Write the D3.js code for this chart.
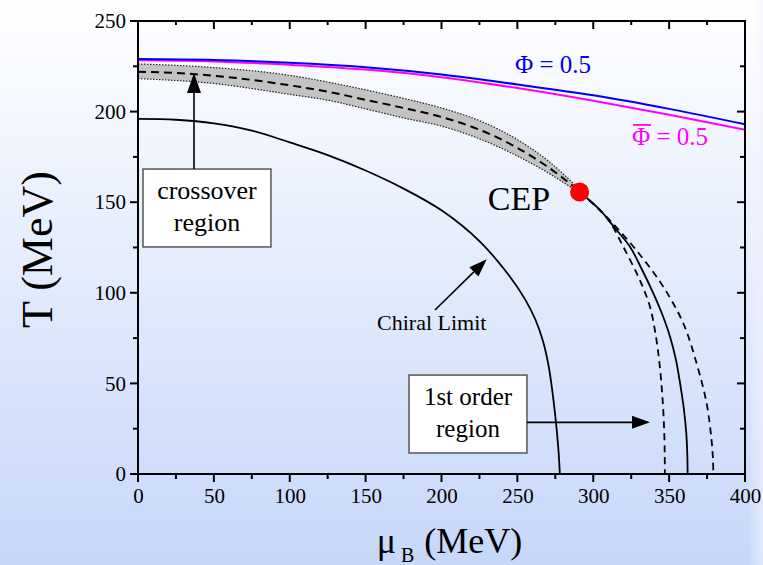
<!DOCTYPE html>
<html>
<head>
<meta charset="utf-8">
<script src="https://cdn.jsdelivr.net/npm/d3@7"></script>
<style>
  html, body { margin: 0; padding: 0; }
  body { width: 763px; height: 565px; overflow: hidden; }
  svg { display: block; font-family: "Liberation Serif", "DejaVu Serif", serif; }
</style>
</head>
<body>
<svg id="chart" width="763" height="565"></svg>
<script>
// Phase diagram of strongly interacting matter: T versus baryon chemical potential.
// Every curve below is a list of [muB (MeV), T (MeV)] pairs.

const xTicks = [0, 50, 100, 150, 200, 250, 300, 350, 400];
const yTicks = [0, 50, 100, 150, 200, 250];

// Deconfinement lines
const phiLine = [[0,229],[50,228.5],[100,227],[150,224.5],[200,220.5],[250,215],[300,209],[350,201.5],[400,193]];
const phiBarLine = [[0,228.3],[50,227.7],[100,225.8],[150,223.2],[200,219],[250,213],[300,206],[350,198.3],[400,190]];

// Crossover (dashed) with its uncertainty band
const crossover = [[0,222],[25,221.3],[50,219.8],[75,217.5],[100,214.5],[125,211],[150,206.5],[175,202],[200,197],[225,190],[250,180],[270,169.5],[291,156]];
const bandUpper = [[0,226.3],[50,224.3],[100,220],[125,216.3],[150,212],[175,207.3],[200,202],[225,195],[250,184.5],[270,173],[291,157]];
const bandLower = [[0,218.2],[50,215.5],[100,209.5],[125,206.3],[150,201.5],[175,196.5],[200,192],[225,185],[250,175.5],[270,166.3],[291,155]];

// Critical end point
const cep = [291, 155.6];

// First-order line and its two spinodals
const firstOrder = [[291,155.6],[304.4,145.7],[314,136],[324.2,125.4],[332,113],[339.6,99.7],[345.5,88],[350.6,75.8],[354.5,63],[357.2,50.2],[359.7,36],[361.3,22.6],[362,10],[362.2,0]];
const spinodalLow = [[291,155.6],[302,147.5],[311,139],[319.8,125.4],[328.6,110.8],[333.5,101.5],[337.4,92.3],[340.5,80],[342.8,67],[344.7,52],[346,37],[346.8,22.4],[347.1,10],[347.2,0]];
const spinodalHigh = [[291,155.6],[304,146],[315.4,136],[330.8,121],[346.1,103.4],[359.3,83.2],[368.1,61.1],[374.7,39],[377.8,20],[378.9,8],[379.1,0]];

// Chiral-limit transition line
const chiralLimit = [[0,196],[25,195.5],[50,193.5],[75,189.5],[100,183],[125,176],[150,167.5],[175,157.5],[200,145.5],[225,128.5],[245,109],[255,96.5],[262,85],[267,73],[270.5,60],[273,46],[275.5,28],[277,14],[278,0]];

const svg = d3.select("#chart");
const W = 763, H = 565;
const plot = { left: 138, right: 745, top: 21, bottom: 474 };

const x = d3.scaleLinear().domain([0, 400]).range([plot.left, plot.right]);
const y = d3.scaleLinear().domain([0, 250]).range([plot.bottom, plot.top]);

// Page background: soft white-to-blue vertical wash
const defs = svg.append("defs");
const bg = defs.append("linearGradient").attr("id", "bgGrad").attr("x1", 0).attr("y1", 0).attr("x2", 0).attr("y2", 1);
bg.append("stop").attr("offset", "0%").attr("stop-color", "#ffffff");
bg.append("stop").attr("offset", "100%").attr("stop-color", "#c6d7f9");
svg.append("rect").attr("width", W).attr("height", H).attr("fill", "url(#bgGrad)");
const side = defs.append("linearGradient").attr("id", "sideGrad").attr("x1", 0).attr("y1", 0).attr("x2", 1).attr("y2", 0);
side.append("stop").attr("offset", "0%").attr("stop-color", "#ffffff").attr("stop-opacity", 0);
side.append("stop").attr("offset", "100%").attr("stop-color", "#f4f0ff").attr("stop-opacity", 0.6);
svg.append("rect").attr("x", 748).attr("width", 15).attr("height", H).attr("fill", "url(#sideGrad)");

// Gently sloping lines use a monotone spline; the steep bending lines use centripetal Catmull-Rom
const smooth = d3.line().x(d => x(d[0])).y(d => y(d[1])).curve(d3.curveMonotoneX);
const bend = d3.line().x(d => x(d[0])).y(d => y(d[1])).curve(d3.curveCatmullRom.alpha(0.5));
const g = svg.append("g");

// Crossover band
const areaBand = d3.area()
  .x(d => x(d[0]))
  .y0((d, i) => y(bandLower[i][1]))
  .y1(d => y(d[1]))
  .curve(d3.curveMonotoneX);
g.append("path").datum(bandUpper).attr("d", areaBand).attr("fill", "#c3c3c3");
[bandUpper, bandLower].forEach(b => {
  g.append("path").datum(b).attr("d", smooth)
    .attr("fill", "none").attr("stroke", "#222").attr("stroke-width", 1.2).attr("stroke-dasharray", "1.5,1.5");
});
g.append("path").datum(crossover).attr("d", smooth)
  .attr("fill", "none").attr("stroke", "#000").attr("stroke-width", 2).attr("stroke-dasharray", "8,5");

// Deconfinement lines
g.append("path").datum(phiBarLine).attr("d", smooth).attr("fill", "none").attr("stroke", "#ff00ff").attr("stroke-width", 2);
g.append("path").datum(phiLine).attr("d", smooth).attr("fill", "none").attr("stroke", "#0000ee").attr("stroke-width", 2);

// Chiral limit
g.append("path").datum(chiralLimit).attr("d", bend).attr("fill", "none").attr("stroke", "#000").attr("stroke-width", 1.8);

// First-order line and spinodals
g.append("path").datum(firstOrder).attr("d", bend).attr("fill", "none").attr("stroke", "#000").attr("stroke-width", 1.8);
[spinodalLow, spinodalHigh].forEach(s => {
  g.append("path").datum(s).attr("d", bend).attr("fill", "none").attr("stroke", "#000")
    .attr("stroke-width", 1.8).attr("stroke-dasharray", "7,5");
});

// CEP marker
g.append("circle").attr("cx", x(cep[0])).attr("cy", y(cep[1])).attr("r", 9.5).attr("fill", "#ff0000");

// Axes frame and ticks
const axisG = svg.append("g").attr("stroke", "#000").attr("stroke-width", 2);
axisG.append("rect").attr("x", plot.left).attr("y", plot.top)
  .attr("width", plot.right - plot.left).attr("height", plot.bottom - plot.top).attr("fill", "none");

const xMinor = d3.range(25, 400, 50);
const yMinor = d3.range(25, 250, 50);
function tickSet(vals, len, orient) {
  vals.forEach(v => {
    if (orient === "bottom") axisG.append("line").attr("x1", x(v)).attr("x2", x(v)).attr("y1", plot.bottom).attr("y2", plot.bottom + len);
    if (orient === "top") axisG.append("line").attr("x1", x(v)).attr("x2", x(v)).attr("y1", plot.top).attr("y2", plot.top + len);
    if (orient === "left") axisG.append("line").attr("y1", y(v)).attr("y2", y(v)).attr("x1", plot.left).attr("x2", plot.left - len);
    if (orient === "right") axisG.append("line").attr("y1", y(v)).attr("y2", y(v)).attr("x1", plot.right).attr("x2", plot.right - len);
  });
}
tickSet(xTicks, 8, "bottom"); tickSet(xMinor, 5, "bottom");
tickSet(xTicks, 8, "top"); tickSet(xMinor, 4, "top");
tickSet(yTicks, 8, "left"); tickSet(yMinor, 5, "left");
tickSet(yTicks, 8, "right"); tickSet(yMinor, 5, "right");

// Tick labels via d3 axes (domain/ticks hidden; frame drawn above)
const xAxis = svg.append("g").attr("transform", `translate(0,${plot.bottom})`)
  .call(d3.axisBottom(x).tickValues(xTicks).tickSize(0).tickPadding(14));
const yAxis = svg.append("g").attr("transform", `translate(${plot.left},0)`)
  .call(d3.axisLeft(y).tickValues(yTicks).tickSize(0).tickPadding(12));
[xAxis, yAxis].forEach(a => {
  a.select(".domain").remove();
  a.selectAll("text").attr("font-family", "Liberation Serif").attr("font-size", 21).attr("fill", "#000");
});

// Axis titles
svg.append("text").attr("transform", `translate(52,${(plot.top + plot.bottom) / 2 + 2}) rotate(-90)`)
  .attr("text-anchor", "middle").attr("font-size", 44).text("T (MeV)");
const xt = svg.append("text").attr("x", (plot.left + plot.right) / 2 + 8).attr("y", 553)
  .attr("text-anchor", "middle").attr("font-size", 36);
xt.append("tspan").text("μ");
xt.append("tspan").attr("font-size", 20).attr("dy", 9).attr("dx", 5).text("B");
xt.append("tspan").attr("dy", -9).attr("dx", 10).text("(MeV)");

// Line labels
svg.append("text").attr("x", x(248.4)).attr("y", y(221.3)).attr("font-size", 25).attr("fill", "#0000ee").text("Φ = 0.5");
svg.append("text").attr("x", x(325.5)).attr("y", y(181.6)).attr("font-size", 25).attr("fill", "#ff00ff").text("Φ = 0.5");
svg.append("line").attr("x1", x(325.5) + 1).attr("x2", x(325.5) + 19).attr("y1", y(181.6) - 20).attr("y2", y(181.6) - 20)
  .attr("stroke", "#ff00ff").attr("stroke-width", 1.8);
svg.append("text").attr("x", x(251)).attr("y", y(145.7)).attr("text-anchor", "middle").attr("font-size", 34).text("CEP");

// Arrows with filled heads
function arrow(from, to, headLen, headW) {
  const x1 = x(from[0]), y1 = y(from[1]), x2 = x(to[0]), y2 = y(to[1]);
  const a = Math.atan2(y2 - y1, x2 - x1);
  const bx = x2 - headLen * Math.cos(a), by = y2 - headLen * Math.sin(a);
  svg.append("line").attr("x1", x1).attr("y1", y1).attr("x2", bx).attr("y2", by)
    .attr("stroke", "#000").attr("stroke-width", 1.6);
  const px = -Math.sin(a) * headW / 2, py = Math.cos(a) * headW / 2;
  svg.append("path").attr("d", `M${x2},${y2}L${bx + px},${by + py}L${bx - px},${by - py}Z`).attr("fill", "#000");
}

// Boxed notes
function noteBox(x0, x1, t0, t1, lines, size) {
  const bx = x(x0), by = y(t0), bw = x(x1) - x(x0), bh = y(t1) - y(t0);
  svg.append("rect").attr("x", bx).attr("y", by).attr("width", bw).attr("height", bh)
    .attr("fill", "#ffffff").attr("stroke", "#555").attr("stroke-width", 1.5);
  lines.forEach((s, i) => {
    svg.append("text").attr("x", bx + bw / 2).attr("y", by + bh * (0.39 + 0.4 * i))
      .attr("text-anchor", "middle").attr("font-size", size).text(s);
  });
}

noteBox(3.3, 87.6, 168.3, 125.3, ["crossover", "region"], 26);
arrow([36.9, 168.3], [36.9, 221.3], 20, 14);

noteBox(178.6, 256.3, 54.6, 11.6, ["1st order", "region"], 25);
arrow([256.3, 28.5], [337.4, 28.5], 18, 13);

svg.append("text").attr("x", x(193.6)).attr("y", y(79.5)).attr("text-anchor", "middle").attr("font-size", 22).text("Chiral Limit");
arrow([195.7, 90.5], [229.8, 118.5], 18, 13);
</script>
</body>
</html>
